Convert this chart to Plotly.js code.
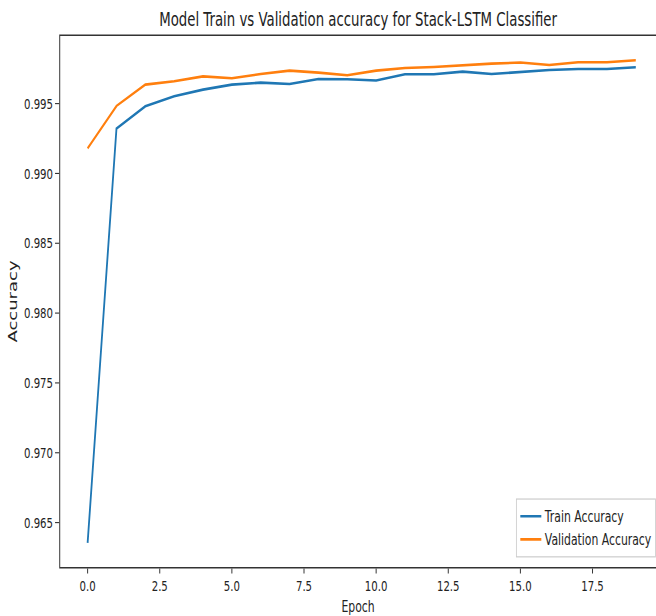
<!DOCTYPE html>
<html>
<head>
<meta charset="utf-8">
<script src="https://cdn.plot.ly/plotly-3.0.1.min.js"></script>
<style>
  html, body { margin: 0; padding: 0; background: #ffffff; overflow: hidden; }
  #wrap { width: 656px; height: 616px; overflow: hidden; position: relative; }
  #chart { width: 937px; height: 616px; transform: scaleX(0.7001); transform-origin: 0 0; position: absolute; left: 0; top: 0; }
</style>
</head>
<body>
<div id="wrap"><div id="chart"></div></div>
<script>
// Data
const epochs = [0, 1, 2, 3, 4, 5, 6, 7, 8, 9, 10, 11, 12, 13, 14, 15, 16, 17, 18, 19];
const trainAccuracy = [0.96354, 0.99321, 0.99481, 0.99552, 0.99600, 0.99636, 0.99650, 0.99640, 0.99676, 0.99674,
                       0.99665, 0.99710, 0.99710, 0.99729, 0.99712, 0.99729, 0.99741, 0.99748, 0.99748, 0.99760];
const valAccuracy = [0.99179, 0.99483, 0.99636, 0.99660, 0.99695, 0.99681, 0.99712, 0.99736, 0.99722, 0.99703,
                     0.99736, 0.99755, 0.99762, 0.99776, 0.99786, 0.99794, 0.99776, 0.99796, 0.99796, 0.99810];
const seriesNames = ["Train Accuracy", "Validation Accuracy"];
const chartTitle = "Model Train vs Validation accuracy for Stack-LSTM Classifier";
const xLabel = "Epoch";
const yLabel = "Accuracy";

const FONT = "DejaVu Sans, sans-serif";

const traces = [
  { x: epochs, y: trainAccuracy, name: seriesNames[0], type: "scatter", mode: "lines",
    line: { color: "#1f77b4", width: 2.6 } },
  { x: epochs, y: valAccuracy, name: seriesNames[1], type: "scatter", mode: "lines",
    line: { color: "#ff7f0e", width: 2.6 } }
];

const layout = {
  width: 937, height: 616,
  margin: { l: 86, r: 0, t: 36, b: 49, pad: 0 },
  paper_bgcolor: "#ffffff", plot_bgcolor: "#ffffff",
  font: { family: FONT, color: "#222222", size: 14.5 },
  title: { text: chartTitle, x: 0.5, xref: "paper", xanchor: "center",
           y: 0.968, yref: "container", yanchor: "middle",
           font: { family: FONT, size: 19, color: "#222222" } },
  xaxis: {
    range: [-0.95, 19.70], tick0: 0, dtick: 2.5, tickformat: ".1f",
    showgrid: false, zeroline: false,
    showline: true, linecolor: "#333333", linewidth: 1.4, mirror: true,
    ticks: "outside", ticklen: 5, tickwidth: 1.4, tickcolor: "#333333",
    tickfont: { family: FONT, size: 14.5, color: "#222222" },
    title: { text: xLabel, standoff: 8, font: { family: FONT, size: 15.5, color: "#222222" } }
  },
  yaxis: {
    range: [0.96182, 0.99984], tick0: 0.965, dtick: 0.005, tickformat: ".3f",
    showgrid: false, zeroline: false,
    showline: true, linecolor: "#333333", linewidth: 1.4, mirror: false,
    ticks: "outside", ticklen: 6, tickwidth: 1.1, tickcolor: "#333333",
    tickfont: { family: FONT, size: 14.5, color: "#222222" },
    title: { text: yLabel, standoff: 4, font: { family: FONT, size: 18, color: "#222222" } }
  },
  showlegend: true,
  legend: {
    x: 1, xanchor: "right", xref: "paper",
    y: 0.018, yanchor: "bottom", yref: "paper",
    bgcolor: "rgba(255,255,255,0.8)", bordercolor: "#cccccc", borderwidth: 1.2,
    font: { family: FONT, size: 15.5, color: "#222222" },
    tracegroupgap: 0
  }
};

Plotly.newPlot("chart", traces, layout, { displayModeBar: false, staticPlot: true });
</script>
</body>
</html>
